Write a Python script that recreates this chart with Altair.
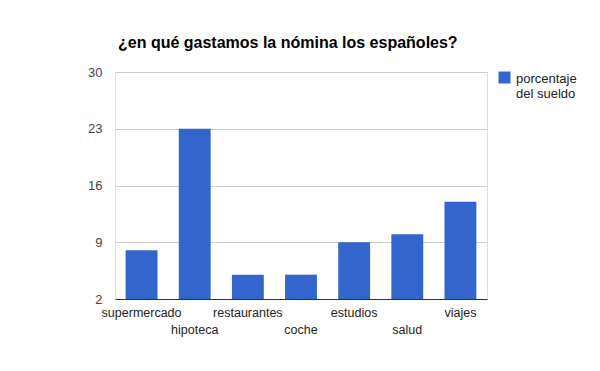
import altair as alt
import pandas as pd

categories = ["supermercado", "hipoteca", "restaurantes", "coche", "estudios", "salud", "viajes"]
values = [8, 23, 5, 5, 9, 10, 14]
series_name = "porcentaje del sueldo"
y_ticks = [2, 9, 16, 23, 30]

df = pd.DataFrame({"categoria": categories, "valor": values, "serie": [series_name] * len(categories)})

lower = ["hipoteca", "coche", "salud"]
lower_expr = "indexof(" + str(lower).replace('"', "'") + ", datum.value) >= 0 ? 24 : 7"

font = "Liberation Sans"

bars = alt.Chart(df).mark_bar().encode(
    x=alt.X("categoria:N", sort=categories, title=None,
            scale=alt.Scale(paddingInner=0.4, paddingOuter=0.2),
            axis=alt.Axis(labelAngle=0, ticks=False, domainColor="#333333", domainWidth=1,
                          labelFont=font, labelFontSize=12.5, labelColor="#222222",
                          labelPadding=alt.expr(lower_expr), labelBaseline="top",
                          labelOverlap=False, grid=False)),
    y=alt.Y("valor:Q", title=None,
            scale=alt.Scale(domain=[2, 30], zero=False, nice=False),
            axis=alt.Axis(values=y_ticks, domain=False, ticks=False, labelPadding=13,
                          labelFont=font, labelFontSize=13, labelColor="#444444",
                          gridColor="#cccccc", gridWidth=1)),
    y2=alt.datum(2),
    color=alt.Color("serie:N", scale=alt.Scale(range=["#3366cc"]), title=None,
                    legend=alt.Legend(orient="none", legendX=383, legendY=4,
                                      symbolType="M-1,-1.83H1V0.17H-1Z", symbolSize=144,
                                      symbolStrokeWidth=0, symbolOpacity=1,
                                      labelFont=font, labelFontSize=13, labelColor="#222222",
                                      labelExpr="['porcentaje', 'del sueldo']",
                                      labelBaseline="alphabetic", labelOffset=5)),
)

chart = bars.properties(
    width=372,
    height=227,
    title=alt.Title("¿en qué gastamos la nómina los españoles?", anchor="start",
                    frame="group",
                    font=font, fontSize=16, fontWeight="bold", color="#000000",
                    offset=15, dx=3),
    autosize=alt.AutoSizeParams(type="none"),
    padding={"left": 107, "top": 64, "right": 105, "bottom": 64},
).configure_view(stroke=None).configure(background="#ffffff")

chart.save("out.html", embed_options={"renderer": "svg", "actions": False})
